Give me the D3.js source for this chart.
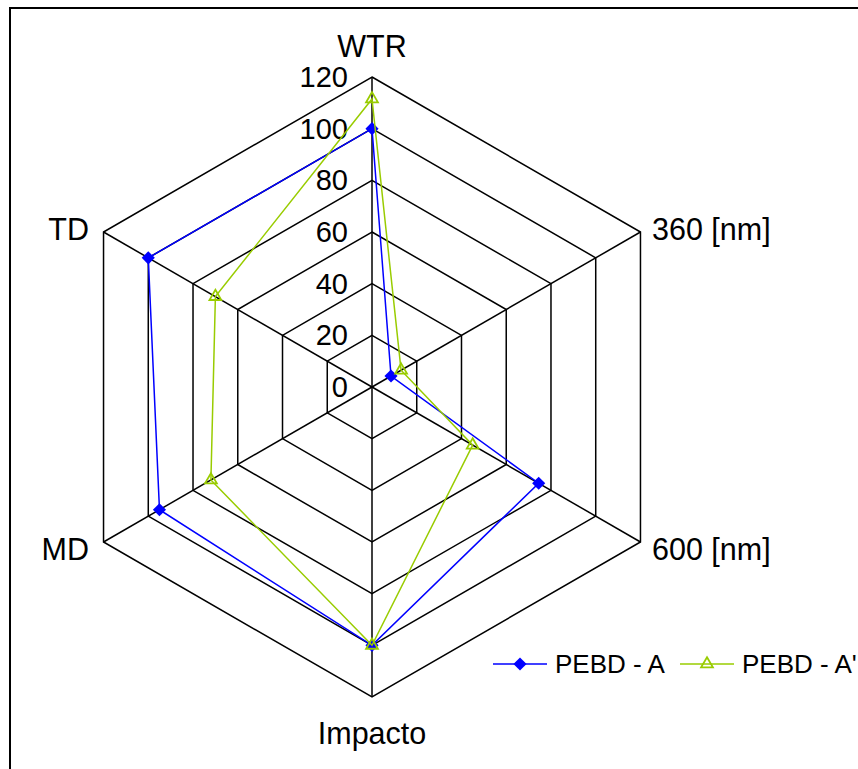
<!DOCTYPE html>
<html>
<head>
<meta charset="utf-8">
<script src="https://cdn.jsdelivr.net/npm/d3@7"></script>
<style>
  html, body { margin: 0; padding: 0; background: #fff; }
  svg { display: block; }
  text { font-family: "Liberation Sans", Arial, sans-serif; fill: #000; }
</style>
</head>
<body>
<svg id="chart" width="858" height="769"></svg>
<script>
// Radar axes (clockwise from top)
const axes = ["WTR", "360 [nm]", "600 [nm]", "Impacto", "MD", "TD"];
const ticks = [0, 20, 40, 60, 80, 100, 120];
const seriesNames = ["PEBD - A", "PEBD - A'"];
const pebdA  = [100, 8.5, 74.5, 100, 95, 100];
const pebdA2 = [111.5, 13, 45, 100, 72, 70];
const colors = ["#0000ff", "#99cc00"];

const svg = d3.select("#chart");
const cx = 372, cy = 387, R = 310;

const r = d3.scaleLinear().domain([0, 120]).range([0, R]);
const ang = d3.scalePoint().domain(axes).range([0, 360 * 5 / 6]);
const pt = (axis, v) => {
  const a = ang(axis) * Math.PI / 180;
  return [cx + r(v) * Math.sin(a), cy - r(v) * Math.cos(a)];
};

// outer frame
svg.append("rect")
  .attr("x", 10).attr("y", 8).attr("width", 900).attr("height", 800)
  .attr("fill", "none").attr("stroke", "#000").attr("stroke-width", 2);

const grid = svg.append("g");
// concentric hexagons
ticks.filter(t => t > 0).forEach(t => {
  grid.append("polygon")
    .attr("points", axes.map(a => pt(a, t).join(",")).join(" "))
    .attr("fill", "none").attr("stroke", "#000").attr("stroke-width", 1.5);
});
// spokes
axes.forEach(a => {
  const [x, y] = pt(a, 120);
  grid.append("line")
    .attr("x1", cx).attr("y1", cy).attr("x2", x).attr("y2", y)
    .attr("stroke", "#000").attr("stroke-width", 1.5);
});

// radial tick labels
ticks.forEach(t => {
  svg.append("text")
    .attr("x", cx - 24).attr("y", cy - r(t))
    .attr("text-anchor", "end").attr("dominant-baseline", "central")
    .attr("font-size", 29).text(t);
});

// axis labels
const labelPos = {
  "WTR":      { x: cx, y: 46, anchor: "middle" },
  "360 [nm]": { x: 652, y: 229, anchor: "start" },
  "600 [nm]": { x: 652, y: 549, anchor: "start" },
  "Impacto":  { x: cx, y: 733, anchor: "middle" },
  "MD":       { x: 89, y: 549, anchor: "end" },
  "TD":       { x: 89, y: 229, anchor: "end" }
};
axes.forEach(a => {
  const p = labelPos[a];
  svg.append("text")
    .attr("x", p.x).attr("y", p.y)
    .attr("text-anchor", p.anchor).attr("dominant-baseline", "central")
    .attr("font-size", 30.5).text(a);
});

const diamond = d3.symbol().type(d3.symbolDiamond2).size(110);
const triangle = d3.symbol().type(d3.symbolTriangle2).size(100);

function drawSeries(values, color, kind) {
  const pts = axes.map((a, i) => pt(a, values[i]));
  svg.append("path")
    .attr("d", d3.line().curve(d3.curveLinearClosed)(pts))
    .attr("fill", "none").attr("stroke", color).attr("stroke-width", 1.5);
  pts.forEach(p => {
    if (kind === "diamond") {
      svg.append("path").attr("d", diamond())
        .attr("transform", `translate(${p[0]},${p[1]})`)
        .attr("fill", color);
    } else {
      svg.append("path").attr("d", triangle())
        .attr("transform", `translate(${p[0]},${p[1]})`)
        .attr("fill", "none").attr("stroke", color).attr("stroke-width", 1.8);
    }
  });
}
drawSeries(pebdA, colors[0], "diamond");
drawSeries(pebdA2, colors[1], "triangle");

// legend
const legY = 664;
const legend = [
  { x: 493, kind: "diamond" },
  { x: 680, kind: "triangle" }
];
legend.forEach((l, i) => {
  svg.append("line")
    .attr("x1", l.x).attr("x2", l.x + 54).attr("y1", legY).attr("y2", legY)
    .attr("stroke", colors[i]).attr("stroke-width", 1.5);
  const sym = l.kind === "diamond" ? diamond() : triangle();
  const m = svg.append("path").attr("d", sym)
    .attr("transform", `translate(${l.x + 27},${legY})`);
  if (l.kind === "diamond") m.attr("fill", colors[i]);
  else m.attr("fill", "none").attr("stroke", colors[i]).attr("stroke-width", 1.8);
  svg.append("text")
    .attr("x", l.x + 62).attr("y", legY)
    .attr("dominant-baseline", "central")
    .attr("font-size", 26).text(seriesNames[i]);
});
</script>
</body>
</html>
